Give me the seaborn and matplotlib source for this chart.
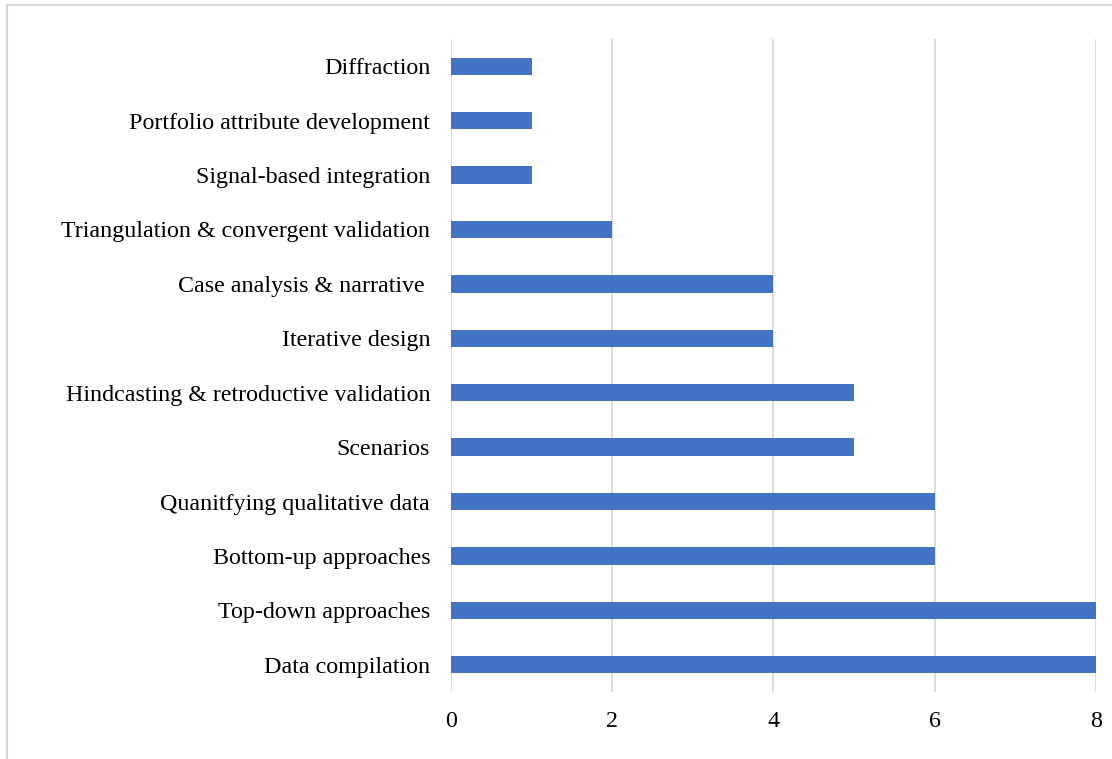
import matplotlib
matplotlib.use("Agg")
import matplotlib.pyplot as plt
import seaborn as sns
import pandas as pd
from matplotlib.patches import Rectangle

# Methods and how often each was used
methods = [
    "Diffraction",
    "Portfolio attribute development",
    "Signal-based integration",
    "Triangulation & convergent validation",
    "Case analysis & narrative ",
    "Iterative design",
    "Hindcasting & retroductive validation",
    "Scenarios",
    "Quanitfying qualitative data",
    "Bottom-up approaches",
    "Top-down approaches",
    "Data compilation",
]
counts = [1, 1, 1, 2, 4, 4, 5, 5, 6, 6, 8, 8]
x_ticks = [0, 2, 4, 6, 8]

df = pd.DataFrame({"method": methods, "count": counts})

sns.set_theme(style="white")
plt.rcParams["font.family"] = ["Liberation Serif", "DejaVu Serif"]

W, H = 1112, 759
fig = plt.figure(figsize=(W / 100, H / 100), dpi=100)
ax = fig.add_axes([451 / W, 1 - 692 / H, (1096 - 451) / W, (692 - 39) / H])

sns.barplot(data=df, y="method", x="count", orient="h", color="#4472C4",
            width=0.32, saturation=1, linewidth=0, ax=ax, zorder=3)

ax.set_xlim(0, 8)
ax.set_ylim(len(methods) - 0.5, -0.5)
ax.set_xticks(x_ticks)
ax.set_xticklabels([str(t) for t in x_ticks])
ax.set_xlabel("")
ax.set_ylabel("")

ax.grid(axis="x", color="#D9D9D9", linewidth=1.3, zorder=0)
ax.grid(axis="y", visible=False)
for s in ax.spines.values():
    s.set_visible(False)

ax.tick_params(axis="y", length=0, pad=15, labelsize=17.3, labelcolor="#000000")
ax.tick_params(axis="x", length=0, pad=14, labelsize=17.3, labelcolor="#000000")

# Light frame around the chart area
fig.patches.append(Rectangle((7 / W, -0.01), 1.02, 1 - 5 / H + 0.01,
                             transform=fig.transFigure, fill=False,
                             edgecolor="#D9D9D9", linewidth=1.5))

fig.savefig("out.png", dpi=100)
